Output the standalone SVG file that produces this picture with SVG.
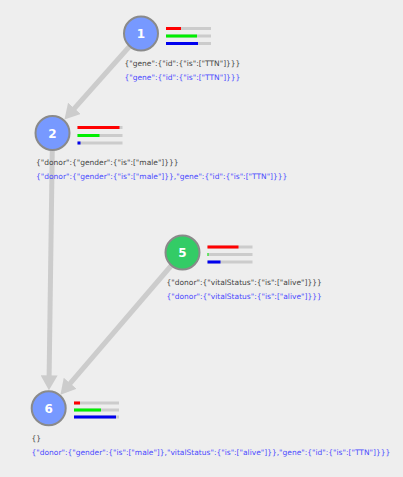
<svg xmlns="http://www.w3.org/2000/svg" width="403" height="477" viewBox="0 0 403 477">
<defs>
<marker id="arrow" markerUnits="userSpaceOnUse" markerWidth="15" markerHeight="17" viewBox="0 0 15 17" refX="2" refY="8.5" orient="auto">
<path d="M0,0 L15,8.5 L0,17 Z" fill="#cccccc"/>
</marker>
<style>
.edge{stroke:#cccccc;stroke-width:5;fill:none;marker-end:url(#arrow)}
.node circle{stroke:#8a8a8a;stroke-width:2}
.blue{fill:#7799ff}
.green{fill:#33cc66}
.num{font-family:"DejaVu Sans",Verdana,sans-serif;font-weight:bold;font-size:12px;fill:#ffffff;text-anchor:middle}
.bg{fill:#cccccc}
.r{fill:#ff0000}
.g{fill:#00ee00}
.b{fill:#0000ee}
.q{font-family:"DejaVu Sans",Verdana,sans-serif;font-size:7.5px;fill:#444444}
.m{font-family:"DejaVu Sans",Verdana,sans-serif;font-size:7.5px;fill:#4a4aff}
</style>
</defs>
<rect width="403" height="477" fill="#eeeeee"/>
<g id="connectors">
<line class="edge" x1="141" y1="33.5" x2="73.1" y2="109.9"/>
<line class="edge" x1="52.5" y1="133" x2="49.1" y2="377.3"/>
<line class="edge" x1="182.5" y1="252.5" x2="68.9" y2="384.8"/>
</g>
<g id="node1" class="node">
<circle class="blue" cx="141" cy="33.5" r="17"/>
<text class="num" x="141" y="38">1</text>
<rect class="bg" x="166" y="27" width="45" height="3"/>
<rect class="r" x="166" y="27" width="15" height="3"/>
<rect class="bg" x="166" y="34.5" width="45" height="3"/>
<rect class="g" x="166" y="34.5" width="31" height="3"/>
<rect class="bg" x="166" y="42" width="45" height="3"/>
<rect class="b" x="166" y="42" width="32" height="3"/>
<text class="q" x="124.5" y="66">{"gene":{"id":{"is":["TTN"]}}}</text>
<text class="m" x="124.5" y="80">{"gene":{"id":{"is":["TTN"]}}}</text>
</g>
<g id="node2" class="node">
<circle class="blue" cx="52.5" cy="133" r="17"/>
<text class="num" x="52.5" y="137.5">2</text>
<rect class="bg" x="77.5" y="126" width="45" height="3"/>
<rect class="r" x="77.5" y="126" width="42" height="3"/>
<rect class="bg" x="77.5" y="134" width="45" height="3"/>
<rect class="g" x="77.5" y="134" width="22" height="3"/>
<rect class="bg" x="77.5" y="141.5" width="45" height="3"/>
<rect class="b" x="77.5" y="141.5" width="3" height="3"/>
<text class="q" x="36" y="165">{"donor":{"gender":{"is":["male"]}}}</text>
<text class="m" x="36" y="179">{"donor":{"gender":{"is":["male"]}},"gene":{"id":{"is":["TTN"]}}}</text>
</g>
<g id="node5" class="node">
<circle class="green" cx="182.5" cy="252.5" r="17"/>
<text class="num" x="182.5" y="257">5</text>
<rect class="bg" x="207.5" y="245.5" width="45" height="3"/>
<rect class="r" x="207.5" y="245.5" width="31" height="3"/>
<rect class="bg" x="207.5" y="253" width="45" height="3"/>
<rect class="g" x="207.5" y="253" width="1" height="3"/>
<rect class="bg" x="207.5" y="260.5" width="45" height="3"/>
<rect class="b" x="207.5" y="260.5" width="13" height="3"/>
<text class="q" x="166.5" y="285">{"donor":{"vitalStatus":{"is":["alive"]}}}</text>
<text class="m" x="166.5" y="299">{"donor":{"vitalStatus":{"is":["alive"]}}}</text>
</g>
<g id="node6" class="node">
<circle class="blue" cx="48.7" cy="408.3" r="17"/>
<text class="num" x="48.7" y="412.8">6</text>
<rect class="bg" x="74" y="401.5" width="45" height="3"/>
<rect class="r" x="74" y="401.5" width="6" height="3"/>
<rect class="bg" x="74" y="408.5" width="45" height="3"/>
<rect class="g" x="74" y="408.5" width="27" height="3"/>
<rect class="bg" x="74" y="415.5" width="45" height="3"/>
<rect class="b" x="74" y="415.5" width="42" height="3"/>
<text class="q" x="31.5" y="441">{}</text>
<text class="m" x="31.5" y="455">{"donor":{"gender":{"is":["male"]},"vitalStatus":{"is":["alive"]}},"gene":{"id":{"is":["TTN"]}}}</text>
</g>
</svg>
